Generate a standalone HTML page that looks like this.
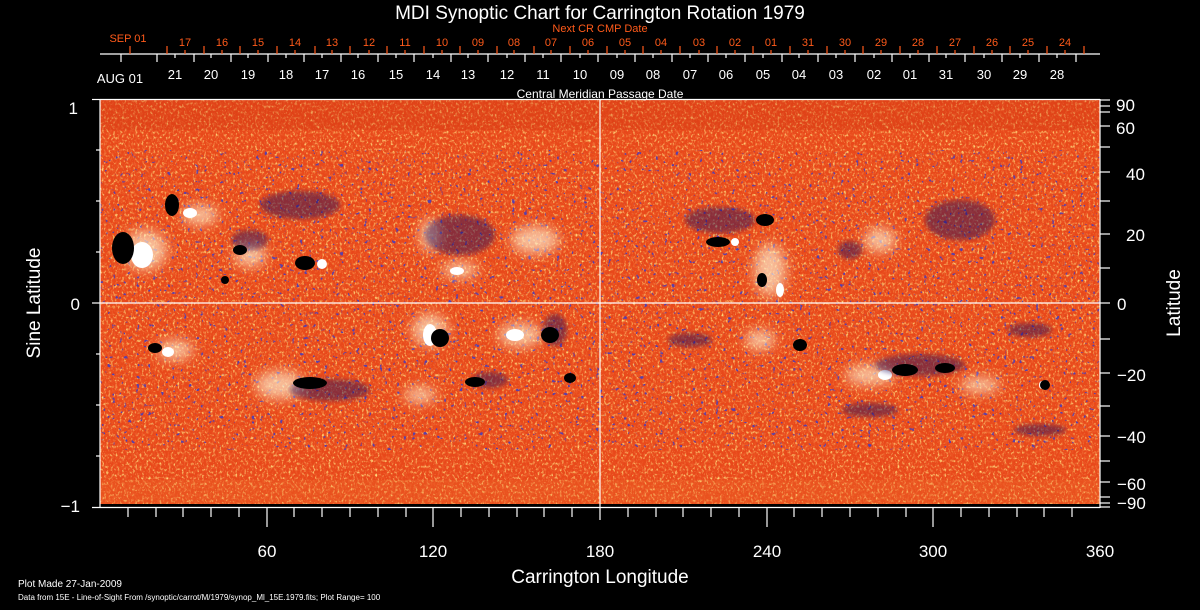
<!DOCTYPE html>
<html><head><meta charset="utf-8"><style>
html,body{margin:0;padding:0;background:#000;width:1200px;height:610px;overflow:hidden}
svg text{font-family:"Liberation Sans",sans-serif}
</style></head><body>
<svg width="1200" height="610" viewBox="0 0 1200 610" xmlns="http://www.w3.org/2000/svg">
<defs>
<filter id="speck" x="0" y="0" width="100%" height="100%">
<feTurbulence type="fractalNoise" baseFrequency="0.45 0.35" numOctaves="2" seed="3" result="n"/>
<feColorMatrix in="n" type="matrix" values="0 0 0 0 1  0 0 0 0 0.7  0 0 0 0 0.2  0 0 0 3.2 -1.65" result="c"/>
<feComposite in="c" in2="SourceGraphic" operator="in"/>
</filter>
<filter id="speck2" x="0" y="0" width="100%" height="100%">
<feTurbulence type="fractalNoise" baseFrequency="0.5 0.3" numOctaves="2" seed="11" result="n"/>
<feColorMatrix in="n" type="matrix" values="0 0 0 0 0.85  0 0 0 0 0.1  0 0 0 0 0.02  0 0 0 3 -1.4" result="c"/>
<feComposite in="c" in2="SourceGraphic" operator="in"/>
</filter>
<filter id="dots" x="0" y="0" width="100%" height="100%">
<feTurbulence type="fractalNoise" baseFrequency="0.25" numOctaves="2" seed="21" result="n"/>
<feColorMatrix in="n" type="matrix" values="0 0 0 0 0.1  0 0 0 0 0.05  0 0 0 0 0.4  0 0 0 14 -9.6" result="c"/>
<feComposite in="c" in2="SourceGraphic" operator="in"/>
</filter>
<filter id="bl"><feGaussianBlur stdDeviation="2.5"/></filter>
<filter id="bl2"><feGaussianBlur stdDeviation="6"/></filter>
<clipPath id="cp"><rect x="100" y="100" width="1000" height="404"/></clipPath>
<clipPath id="act"><rect x="100" y="150" width="1000" height="300"/></clipPath>
</defs>
<g clip-path="url(#cp)">
<rect x="100" y="100" width="1000" height="404" fill="#e8481a"/>
<rect x="100" y="100" width="1000" height="404" fill="#fff" filter="url(#speck)"/>
<rect x="100" y="100" width="1000" height="404" fill="#fff" filter="url(#speck2)"/>
<rect x="100" y="100" width="1000" height="30" fill="#c83010" opacity="0.25"/>
<rect x="100" y="480" width="1000" height="24" fill="#f07a30" opacity="0.2"/>
<g clip-path="url(#act)"><rect x="100" y="150" width="1000" height="300" fill="#fff" filter="url(#dots)"/></g>
<!-- white plage -->
<g fill="#fff6d8" filter="url(#bl2)" opacity="0.65">
<ellipse cx="145" cy="250" rx="22" ry="20"/><ellipse cx="200" cy="215" rx="18" ry="10"/>
<ellipse cx="430" cy="235" rx="10" ry="16"/><ellipse cx="460" cy="270" rx="18" ry="8"/>
<ellipse cx="535" cy="240" rx="24" ry="14"/><ellipse cx="175" cy="350" rx="18" ry="10"/>
<ellipse cx="280" cy="385" rx="25" ry="14"/><ellipse cx="430" cy="330" rx="18" ry="16"/>
<ellipse cx="520" cy="335" rx="22" ry="12"/><ellipse cx="770" cy="270" rx="16" ry="26"/>
<ellipse cx="880" cy="240" rx="16" ry="12"/><ellipse cx="870" cy="375" rx="25" ry="10"/>
<ellipse cx="760" cy="340" rx="15" ry="10"/><ellipse cx="980" cy="385" rx="20" ry="8"/>
<ellipse cx="420" cy="395" rx="16" ry="8"/><ellipse cx="250" cy="255" rx="16" ry="12"/>
</g>
<g fill="#fff">
<ellipse cx="142" cy="255" rx="11" ry="13"/><ellipse cx="190" cy="213" rx="7" ry="5"/>
<ellipse cx="322" cy="264" rx="5" ry="5"/><ellipse cx="457" cy="271" rx="7" ry="4"/>
<ellipse cx="430" cy="335" rx="7" ry="11"/><ellipse cx="515" cy="335" rx="9" ry="6"/>
<ellipse cx="168" cy="352" rx="6" ry="5"/><ellipse cx="735" cy="242" rx="4" ry="4"/>
<ellipse cx="885" cy="375" rx="7" ry="5"/><ellipse cx="1042" cy="385" rx="3" ry="4"/>
<ellipse cx="780" cy="290" rx="4" ry="7"/>
</g>
<!-- dark network -->
<g fill="#1a1060" filter="url(#bl)" opacity="0.45">
<ellipse cx="300" cy="205" rx="40" ry="14"/><ellipse cx="460" cy="235" rx="35" ry="20"/>
<ellipse cx="330" cy="390" rx="40" ry="11"/><ellipse cx="490" cy="380" rx="18" ry="8"/>
<ellipse cx="720" cy="220" rx="35" ry="13"/><ellipse cx="920" cy="365" rx="45" ry="11"/>
<ellipse cx="870" cy="410" rx="28" ry="7"/><ellipse cx="1030" cy="330" rx="22" ry="7"/>
<ellipse cx="850" cy="250" rx="12" ry="9"/><ellipse cx="690" cy="340" rx="22" ry="7"/>
<ellipse cx="960" cy="220" rx="35" ry="20"/><ellipse cx="1040" cy="430" rx="26" ry="6"/>
<ellipse cx="250" cy="240" rx="18" ry="10"/><ellipse cx="555" cy="330" rx="12" ry="16"/>
</g>
<g fill="#000">
<ellipse cx="123" cy="248" rx="11" ry="16"/><ellipse cx="172" cy="205" rx="7" ry="11"/>
<ellipse cx="305" cy="263" rx="10" ry="7"/><ellipse cx="440" cy="338" rx="9" ry="9"/>
<ellipse cx="550" cy="335" rx="9" ry="8"/><ellipse cx="570" cy="378" rx="6" ry="5"/>
<ellipse cx="240" cy="250" rx="7" ry="5"/><ellipse cx="310" cy="383" rx="17" ry="6"/>
<ellipse cx="475" cy="382" rx="10" ry="5"/><ellipse cx="718" cy="242" rx="12" ry="5"/>
<ellipse cx="765" cy="220" rx="9" ry="6"/><ellipse cx="762" cy="280" rx="5" ry="7"/>
<ellipse cx="800" cy="345" rx="7" ry="6"/><ellipse cx="905" cy="370" rx="13" ry="6"/>
<ellipse cx="945" cy="368" rx="10" ry="5"/><ellipse cx="1045" cy="385" rx="5" ry="5"/>
<ellipse cx="155" cy="348" rx="7" ry="5"/><ellipse cx="225" cy="280" rx="4" ry="4"/>
</g>
</g>
<g stroke="#fff" stroke-width="1.2" fill="none">
<line x1="600" y1="100" x2="600" y2="520"/>
<line x1="100" y1="303" x2="1100" y2="303"/>
<line x1="100" y1="99.5" x2="1100" y2="99.5"/>
<line x1="100" y1="99" x2="100" y2="508"/>
<line x1="1100" y1="99" x2="1100" y2="508"/>
<line x1="92" y1="507.5" x2="1100" y2="507.5"/>
<line x1="92" y1="99.5" x2="100" y2="99.5"/>
<line x1="92" y1="303" x2="100" y2="303"/>
<line x1="96" y1="150" x2="100" y2="150"/><line x1="96" y1="201" x2="100" y2="201"/><line x1="96" y1="252" x2="100" y2="252"/>
<line x1="96" y1="354" x2="100" y2="354"/><line x1="96" y1="405" x2="100" y2="405"/><line x1="96" y1="456" x2="100" y2="456"/>
<line x1="1100" y1="100" x2="1110" y2="100"/><line x1="1100" y1="106" x2="1110" y2="106"/>
<line x1="1100" y1="112" x2="1110" y2="112"/><line x1="1100" y1="126" x2="1110" y2="126"/>
<line x1="1100" y1="147" x2="1110" y2="147"/><line x1="1100" y1="172" x2="1110" y2="172"/>
<line x1="1100" y1="201" x2="1110" y2="201"/><line x1="1100" y1="234" x2="1110" y2="234"/>
<line x1="1100" y1="268" x2="1110" y2="268"/><line x1="1100" y1="303" x2="1110" y2="303"/>
<line x1="1100" y1="339" x2="1110" y2="339"/><line x1="1100" y1="373" x2="1110" y2="373"/>
<line x1="1100" y1="406" x2="1110" y2="406"/><line x1="1100" y1="436" x2="1110" y2="436"/>
<line x1="1100" y1="461" x2="1110" y2="461"/><line x1="1100" y1="482" x2="1110" y2="482"/>
<line x1="1100" y1="497" x2="1110" y2="497"/><line x1="1100" y1="503" x2="1110" y2="503"/>
<line x1="1100" y1="507" x2="1110" y2="507"/>
<line x1="128" y1="507" x2="128" y2="517"/><line x1="156" y1="507" x2="156" y2="517"/><line x1="183" y1="507" x2="183" y2="517"/>
<line x1="211" y1="507" x2="211" y2="517"/><line x1="239" y1="507" x2="239" y2="517"/><line x1="267" y1="507" x2="267" y2="527"/>
<line x1="294" y1="507" x2="294" y2="517"/><line x1="322" y1="507" x2="322" y2="517"/><line x1="350" y1="507" x2="350" y2="517"/>
<line x1="378" y1="507" x2="378" y2="517"/><line x1="406" y1="507" x2="406" y2="517"/><line x1="433" y1="507" x2="433" y2="527"/>
<line x1="461" y1="507" x2="461" y2="517"/><line x1="489" y1="507" x2="489" y2="517"/><line x1="517" y1="507" x2="517" y2="517"/>
<line x1="544" y1="507" x2="544" y2="517"/><line x1="572" y1="507" x2="572" y2="517"/>
<line x1="628" y1="507" x2="628" y2="517"/><line x1="656" y1="507" x2="656" y2="517"/><line x1="683" y1="507" x2="683" y2="517"/>
<line x1="711" y1="507" x2="711" y2="517"/><line x1="739" y1="507" x2="739" y2="517"/><line x1="767" y1="507" x2="767" y2="527"/>
<line x1="794" y1="507" x2="794" y2="517"/><line x1="822" y1="507" x2="822" y2="517"/><line x1="850" y1="507" x2="850" y2="517"/>
<line x1="878" y1="507" x2="878" y2="517"/><line x1="906" y1="507" x2="906" y2="517"/><line x1="933" y1="507" x2="933" y2="527"/>
<line x1="961" y1="507" x2="961" y2="517"/><line x1="989" y1="507" x2="989" y2="517"/><line x1="1017" y1="507" x2="1017" y2="517"/>
<line x1="1044" y1="507" x2="1044" y2="517"/><line x1="1072" y1="507" x2="1072" y2="517"/>
<line x1="100" y1="54" x2="1100" y2="54"/>
</g>
<g stroke="#fff" stroke-width="1.2">
<path d="M121 54v8M157 54v8M194 54v8M231 54v8M268 54v8M304 54v8M341 54v8M378 54v8M414 54v8M451 54v8M488 54v8M525 54v8M561 54v8M598 54v8M635 54v8M672 54v8M708 54v8M745 54v8M782 54v8M818 54v8M855 54v8M892 54v8M929 54v8M965 54v8M1002 54v8M1039 54v8M1076 54v8"/>
<path d="M175 54v4M211 54v4M248 54v4M286 54v4M322 54v4M358 54v4M396 54v4M433 54v4M468 54v4M507 54v4M543 54v4M580 54v4M617 54v4M653 54v4M690 54v4M726 54v4M763 54v4M799 54v4M836 54v4M874 54v4M910 54v4M946 54v4M984 54v4M1020 54v4M1057 54v4"/>
</g>
<g stroke="#ff5a1a" stroke-width="1.2">
<path d="M130 54v-8M167 54v-8M204 54v-8M240 54v-8M277 54v-8M315 54v-8M350 54v-8M387 54v-8M424 54v-8M460 54v-8M497 54v-8M534 54v-8M570 54v-8M607 54v-8M643 54v-8M680 54v-8M717 54v-8M753 54v-8M790 54v-8M827 54v-8M863 54v-8M900 54v-8M937 54v-8M974 54v-8M1010 54v-8M1047 54v-8M1084 54v-8"/>
<path d="M185 54v-4M222 54v-4M258 54v-4M295 54v-4M332 54v-4M369 54v-4M405 54v-4M442 54v-4M478 54v-4M514 54v-4M551 54v-4M588 54v-4M625 54v-4M661 54v-4M699 54v-4M735 54v-4M771 54v-4M808 54v-4M845 54v-4M881 54v-4M918 54v-4M955 54v-4M992 54v-4M1028 54v-4M1065 54v-4"/>
</g>
<g fill="#fff">
<text x="600" y="19" text-anchor="middle" font-size="19">MDI Synoptic Chart for Carrington Rotation 1979</text>
</g>
<g fill="#ff5a1a" font-size="11" text-anchor="middle">
<text x="600" y="32">Next CR CMP Date</text>
<text x="128" y="42">SEP 01</text>
<text x="185" y="46">17</text><text x="222" y="46">16</text><text x="258" y="46">15</text><text x="295" y="46">14</text><text x="332" y="46">13</text>
<text x="369" y="46">12</text><text x="405" y="46">11</text><text x="442" y="46">10</text><text x="478" y="46">09</text><text x="514" y="46">08</text>
<text x="551" y="46">07</text><text x="588" y="46">06</text><text x="625" y="46">05</text><text x="661" y="46">04</text><text x="699" y="46">03</text>
<text x="735" y="46">02</text><text x="771" y="46">01</text><text x="808" y="46">31</text><text x="845" y="46">30</text><text x="881" y="46">29</text>
<text x="918" y="46">28</text><text x="955" y="46">27</text><text x="992" y="46">26</text><text x="1028" y="46">25</text><text x="1065" y="46">24</text>
</g>
<g fill="#fff" font-size="13" text-anchor="middle">
<text x="120" y="83">AUG 01</text>
<text x="175" y="79">21</text><text x="211" y="79">20</text><text x="248" y="79">19</text><text x="286" y="79">18</text><text x="322" y="79">17</text>
<text x="358" y="79">16</text><text x="396" y="79">15</text><text x="433" y="79">14</text><text x="468" y="79">13</text><text x="507" y="79">12</text>
<text x="543" y="79">11</text><text x="580" y="79">10</text><text x="617" y="79">09</text><text x="653" y="79">08</text><text x="690" y="79">07</text>
<text x="726" y="79">06</text><text x="763" y="79">05</text><text x="799" y="79">04</text><text x="836" y="79">03</text><text x="874" y="79">02</text>
<text x="910" y="79">01</text><text x="946" y="79">31</text><text x="984" y="79">30</text><text x="1020" y="79">29</text><text x="1057" y="79">28</text>
<text x="600" y="98" font-size="12">Central Meridian Passage Date</text>
</g>
<g fill="#fff" font-size="17">
<text x="78" y="114" text-anchor="end">1</text>
<text x="80" y="310" text-anchor="end">0</text>
<text x="80" y="512" text-anchor="end">−1</text>
<text x="1116" y="111">90</text><text x="1116" y="134">60</text><text x="1126" y="180">40</text>
<text x="1126" y="241">20</text><text x="1117" y="310">0</text><text x="1117" y="381">−20</text>
<text x="1117" y="443">−40</text><text x="1117" y="490">−60</text><text x="1117" y="509">−90</text>
<text x="267" y="557" text-anchor="middle">60</text><text x="433" y="557" text-anchor="middle">120</text>
<text x="600" y="557" text-anchor="middle">180</text><text x="767" y="557" text-anchor="middle">240</text>
<text x="933" y="557" text-anchor="middle">300</text><text x="1100" y="557" text-anchor="middle">360</text>
<text x="600" y="583" text-anchor="middle" font-size="19">Carrington Longitude</text>
<text transform="translate(40,303) rotate(-90)" text-anchor="middle" font-size="19">Sine Latitude</text>
<text transform="translate(1180,303) rotate(-90)" text-anchor="middle" font-size="19">Latitude</text>
</g>
<g fill="#fff">
<text x="18" y="587" font-size="10">Plot Made 27-Jan-2009</text>
<text x="18" y="600" font-size="8">Data from 15E - Line-of-Sight From /synoptic/carrot/M/1979/synop_Ml_15E.1979.fits; Plot Range=  100</text>
</g>
</svg>
</body></html>
